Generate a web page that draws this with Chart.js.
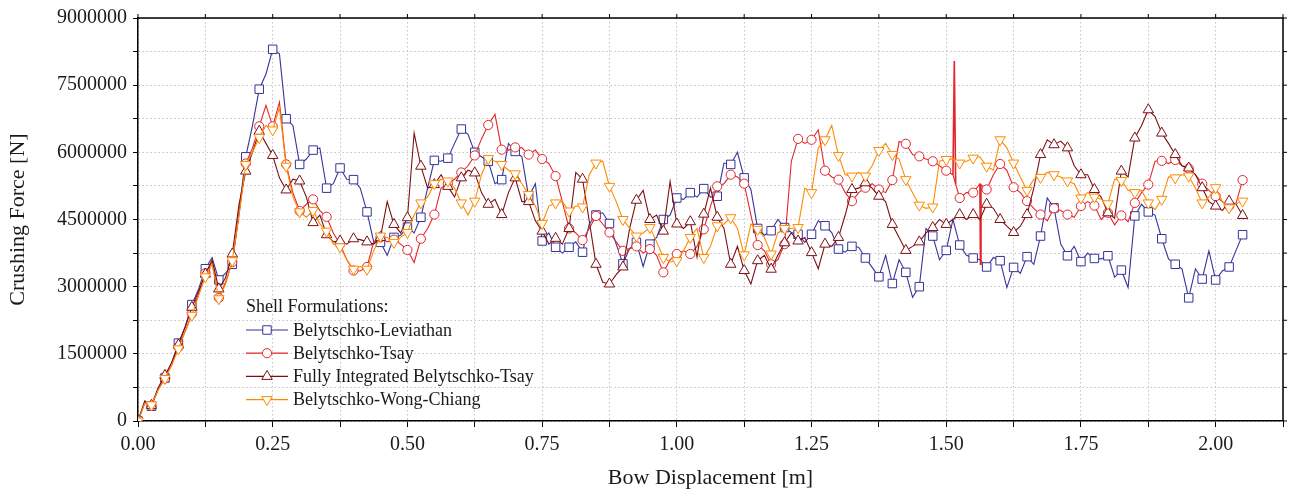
<!DOCTYPE html>
<html>
<head>
<meta charset="utf-8">
<script src="https://cdn.jsdelivr.net/npm/chart.js@4.4.1/dist/chart.umd.min.js"></script>
<style>
html,body{margin:0;padding:0;background:#fff}
#wrap{position:relative;width:1290px;height:491px}
</style>
</head>
<body>
<div id="wrap"><canvas id="c"></canvas></div>
<script>
// Bow displacement [m]
const displacement = [
0,0.0125,0.025,0.0375,0.05,0.0625,0.075,0.0875,0.1,0.1125,
0.125,0.1375,0.15,0.1625,0.175,0.1875,0.2,0.2125,0.225,0.2375,
0.25,0.2625,0.275,0.2875,0.3,0.3125,0.325,0.3375,0.35,0.3625,
0.375,0.3875,0.4,0.4125,0.425,0.4375,0.45,0.4625,0.475,0.4875,
0.5,0.5125,0.525,0.5375,0.55,0.5625,0.575,0.5875,0.6,0.6125,
0.625,0.6375,0.65,0.6625,0.675,0.6875,0.7,0.7125,0.725,0.7375,
0.75,0.7625,0.775,0.7875,0.8,0.8125,0.825,0.8375,0.85,0.8625,
0.875,0.8875,0.9,0.9125,0.925,0.9375,0.95,0.9625,0.975,0.9875,
1,1.0125,1.025,1.0375,1.05,1.0625,1.075,1.0875,1.1,1.1125,
1.125,1.1375,1.15,1.1625,1.175,1.1875,1.2,1.2125,1.225,1.2375,
1.25,1.2625,1.275,1.2875,1.3,1.3125,1.325,1.3375,1.35,1.3625,
1.375,1.3875,1.4,1.4125,1.425,1.4375,1.45,1.4625,1.475,1.4875,
1.5,1.5125,1.525,1.5375,1.55,1.5625,1.575,1.5875,1.6,1.6125,
1.625,1.6375,1.65,1.6625,1.675,1.6875,1.7,1.7125,1.725,1.7375,
1.75,1.7625,1.775,1.7875,1.8,1.8125,1.825,1.8375,1.85,1.8625,
1.875,1.8875,1.9,1.9125,1.925,1.9375,1.95,1.9625,1.975,1.9875,
2,2.0125,2.025,2.0375,2.05];

// Crushing force, read in MN
const leviathan = [
0,0.42,0.33,0.72,0.96,1.3,1.74,2.1,2.6,2.95,
3.4,3.65,3.15,3.3,3.5,4.7,5.9,6.6,7.41,7.75,
8.3,8.2,6.75,6.6,5.73,5.85,6.05,6.1,5.2,5.3,
5.65,5.4,5.39,5.2,4.67,4.0,3.99,3.7,4.1,4.15,
4.33,4.2,4.55,5.2,5.82,5.8,5.87,6.2,6.52,6.4,
6.0,5.9,5.8,5.3,5.39,6.2,6.02,5.9,5.0,5.3,
4.02,4.2,3.88,3.75,3.88,4.0,3.77,4.4,4.6,4.65,
4.41,3.95,3.51,3.85,3.99,3.45,3.95,4.1,4.5,4.6,
4.98,4.95,5.1,5.0,5.19,5.0,5.02,5.76,5.73,6.0,
5.43,5.17,4.3,4.15,4.25,4.5,4.32,4.21,4.17,3.99,
4.17,4.47,4.36,4.21,3.84,3.77,3.9,3.88,3.64,3.43,
3.22,3.7,3.07,3.6,3.32,2.76,3.0,4.3,4.13,3.6,
3.81,4.5,3.93,3.7,3.64,3.6,3.44,3.65,3.58,2.98,
3.43,3.3,3.67,3.5,4.13,4.98,4.76,3.95,3.69,3.9,
3.56,3.75,3.63,3.62,3.69,3.21,3.37,2.98,4.58,4.84,
4.67,4.6,4.07,3.62,3.5,3.4,2.75,3.4,3.17,3.8,
3.15,3.35,3.44,3.8,4.16];

const tsay = [
0,0.4,0.34,0.7,0.95,1.25,1.65,2.0,2.4,2.85,
3.3,3.55,2.75,3.1,3.55,4.6,5.75,6.1,6.58,7.05,
6.58,7.12,5.73,5.1,4.69,4.84,4.95,4.7,4.56,4.2,
3.95,3.6,3.36,3.35,3.44,4.0,4.1,4.0,4.05,3.95,
3.82,3.54,4.07,4.3,4.61,5.2,5.3,5.4,5.55,5.7,
5.93,6.3,6.61,6.85,6.06,6.05,6.11,6.1,5.95,6.05,
5.85,5.75,5.47,4.9,4.3,4.2,4.04,4.3,4.58,4.4,
4.21,4.0,3.8,3.85,3.9,3.75,3.84,3.7,3.32,3.6,
3.73,3.8,3.73,3.9,4.28,4.8,5.24,5.3,5.5,5.45,
5.3,4.6,3.93,3.8,3.5,3.6,3.95,5.8,6.3,6.2,
6.28,6.5,5.59,5.45,5.39,5.1,4.91,5.1,5.21,5.3,
5.17,5.1,5.38,6.24,6.19,5.95,5.91,5.85,5.8,5.7,
5.59,5.5,4.98,5.1,5.1,5.3,5.17,5.5,5.74,5.6,
5.22,5.1,4.91,4.75,4.61,4.47,4.75,4.7,4.61,4.55,
4.8,4.9,4.81,4.5,4.65,4.38,4.59,4.45,4.87,5.1,
5.28,5.8,5.81,5.75,5.83,5.7,5.64,5.5,5.3,5.15,
5.02,4.9,4.8,4.85,5.38];

// narrow excursions of the Belytschko-Tsay curve (MN)
const tsaySpikeX = [1.5125,1.515,1.5175,1.54,1.5625,1.5635,1.5645];
const tsaySpikeY = [5.5,8.04,5.29,null,5.3,3.5,5.28];

const fullyIntegrated = [
0,0.45,0.35,0.75,1.02,1.3,1.7,2.1,2.54,2.9,
3.28,3.6,2.95,3.2,3.73,4.84,5.58,6.0,6.47,6.2,
5.93,5.43,5.16,5.4,5.36,5.0,4.43,4.6,4.16,4.0,
4.02,3.95,4.07,4.05,4.0,3.95,4.1,4.9,4.39,4.2,
4.54,6.43,5.69,5.2,5.28,5.5,5.24,5.0,5.43,5.6,
5.54,5.1,4.84,4.95,4.61,5.1,5.43,4.9,4.9,4.47,
4.24,3.95,4.08,3.95,4.3,5.55,5.4,4.47,3.5,3.1,
3.06,3.27,3.44,4.3,4.93,5.15,4.5,4.6,4.24,5.35,
4.4,4.3,4.45,3.66,4.62,5.2,4.55,4.3,3.5,3.9,
3.36,3.06,3.58,3.7,3.39,3.7,3.98,4.2,4.02,4.1,
3.76,3.4,3.95,3.9,4.1,4.6,5.17,5.2,5.32,5.2,
5.02,4.9,4.39,4.1,3.81,3.9,4.0,4.2,4.32,4.5,
4.39,4.5,4.61,4.5,4.61,4.5,4.84,4.75,4.5,4.35,
4.21,4.35,4.61,5.2,5.95,6.28,6.17,6.25,6.1,5.7,
5.5,5.5,5.17,5.0,4.65,4.53,5.58,5.45,6.32,6.6,
6.95,6.8,6.43,6.2,5.95,5.7,5.65,5.5,5.21,4.9,
4.8,4.7,4.91,4.85,4.59];

const wongChiang = [
0,0.4,0.36,0.7,0.95,1.25,1.61,2.0,2.36,2.8,
3.22,3.5,2.73,3.05,3.58,4.6,5.73,6.0,6.33,6.6,
6.5,7.0,5.69,5.0,4.67,4.55,4.7,4.4,4.24,3.95,
3.89,3.6,3.39,3.45,3.39,3.8,4.13,4.1,3.99,4.1,
4.21,4.6,4.87,5.0,5.3,5.4,5.36,5.2,4.87,4.6,
4.91,5.5,5.86,5.8,5.73,5.6,5.52,5.3,5.06,4.8,
4.41,4.8,4.87,4.9,4.69,4.8,4.78,5.5,5.76,5.8,
5.24,4.9,4.5,4.3,4.13,4.2,4.32,4.0,3.65,3.55,
3.58,3.8,4.1,4.3,3.65,3.9,4.36,4.4,4.54,4.3,
3.71,4.4,4.28,4.1,3.73,4.2,4.3,4.3,4.32,5.2,
5.1,6.1,6.28,6.6,5.93,5.5,5.47,5.55,5.47,5.7,
6.04,6.2,5.95,5.85,5.39,5.1,4.82,4.75,4.78,5.8,
5.84,5.85,5.76,5.8,5.87,5.9,5.69,5.6,6.28,6.1,
5.76,5.45,5.15,5.4,5.44,5.55,5.5,5.45,5.36,5.3,
4.98,5.1,5.0,4.95,4.85,5.4,5.37,5.15,5.1,5.15,
4.87,4.72,4.95,5.45,5.43,5.5,5.47,5.2,4.87,5.0,
5.21,4.9,4.76,4.85,4.91];

const seriesNames = ['Belytschko-Leviathan','Belytschko-Tsay','Fully Integrated Belytschko-Tsay','Belytschko-Wong-Chiang'];
const legendTitle = 'Shell Formulations:';
const xTickLabels = [0,0.25,0.5,0.75,1.0,1.25,1.5,1.75,2.0];
const yTickLabels = [0,1500000,3000000,4500000,6000000,7500000,9000000];

const MN = 1e6;
const FONT = "'Liberation Serif', 'Times New Roman', serif";
const colors = ['#34349a', '#e3262b', '#7d0f14', '#ff8a00'];
const styles = [
  {pointStyle:'rect', rotation:0, radius:6},
  {pointStyle:'circle', rotation:0, radius:4.6},
  {pointStyle:'triangle', rotation:0, radius:6},
  {pointStyle:'triangle', rotation:180, radius:6}
];

function series(i, values, order) {
  const st = styles[i];
  return {
    label: seriesNames[i],
    data: displacement.map((x, k) => ({x: x, y: values[k] * MN})),
    borderColor: colors[i],
    backgroundColor: '#fff',
    borderWidth: 1.1,
    pointStyle: st.pointStyle,
    rotation: st.rotation,
    pointRotation: st.rotation,
    pointRadius: c => (c.dataIndex % 2 === 0 ? st.radius : 0),
    pointHoverRadius: 0,
    pointBorderWidth: 1,
    pointBorderColor: colors[i],
    pointBackgroundColor: '#fff',
    tension: 0,
    order: order
  };
}

const datasets = [
  series(0, leviathan, 5),
  series(1, tsay, 4),
  {
    label: 'spike',
    data: tsaySpikeX.map((x, k) => ({x: x, y: tsaySpikeY[k] === null ? null : tsaySpikeY[k] * MN})),
    borderColor: colors[1], borderWidth: 1.6, pointRadius: 0, tension: 0, spanGaps: false, order: 3
  },
  series(2, fullyIntegrated, 2),
  series(3, wongChiang, 1)
];

function drawMarker(ctx, st, x, y, color) {
  const r = st.radius;
  ctx.save();
  ctx.strokeStyle = color; ctx.fillStyle = '#fff'; ctx.lineWidth = 1;
  ctx.beginPath();
  if (st.pointStyle === 'rect') {
    const s = r * Math.SQRT1_2;
    ctx.rect(x - s, y - s, 2 * s, 2 * s);
  } else if (st.pointStyle === 'circle') {
    ctx.arc(x, y, r, 0, Math.PI * 2);
  } else {
    let rad = st.rotation * Math.PI / 180;
    ctx.moveTo(x + Math.sin(rad) * r, y - Math.cos(rad) * r);
    rad += 2 * Math.PI / 3;
    ctx.lineTo(x + Math.sin(rad) * r, y - Math.cos(rad) * r);
    rad += 2 * Math.PI / 3;
    ctx.lineTo(x + Math.sin(rad) * r, y - Math.cos(rad) * r);
    ctx.closePath();
  }
  ctx.fill(); ctx.stroke();
  ctx.restore();
}

const framePlugin = {
  id: 'frameAndLegend',
  afterDatasetsDraw(chart) {
    const ctx = chart.ctx, a = chart.chartArea, xs = chart.scales.x, ys = chart.scales.y;
    ctx.save();
    ctx.strokeStyle = '#000';
    ctx.lineWidth = 1.5;
    ctx.beginPath();
    ctx.moveTo(a.left, a.top); ctx.lineTo(a.right, a.top); ctx.lineTo(a.right, a.bottom);
    ctx.stroke();
    ctx.lineWidth = 1;
    ctx.beginPath();
    xs.ticks.forEach(t => { const p = xs.getPixelForValue(t.value); ctx.moveTo(p, a.top); ctx.lineTo(p, a.top - 4); });
    ys.ticks.forEach(t => { const p = ys.getPixelForValue(t.value); ctx.moveTo(a.right, p); ctx.lineTo(a.right + 4, p); });
    ctx.stroke();

    // legend
    const lx = a.left + 108, ty = a.top + 289;
    ctx.font = "18px " + FONT;
    ctx.fillStyle = '#1a1a1a';
    ctx.textBaseline = 'middle';
    ctx.textAlign = 'left';
    ctx.fillText(legendTitle, lx, ty);
    for (let i = 0; i < 4; i++) {
      const yy = ty + 23 + i * 23.2;
      ctx.strokeStyle = colors[i];
      ctx.lineWidth = 1.2;
      ctx.beginPath(); ctx.moveTo(lx, yy); ctx.lineTo(lx + 42, yy); ctx.stroke();
      drawMarker(ctx, styles[i], lx + 21, yy, colors[i]);
      ctx.fillStyle = '#1a1a1a';
      ctx.fillText(seriesNames[i], lx + 47, yy + 1);
    }
    ctx.restore();
  }
};

new Chart(document.getElementById('c'), {
  type: 'line',
  data: {datasets: datasets},
  options: {
    responsive: true,
    maintainAspectRatio: false,
    animation: false,
    layout: {padding: {top: 16, right: 4, left: 0, bottom: 0}},
    plugins: {legend: {display: false}, tooltip: {enabled: false}},
    scales: {
      x: {
        type: 'linear', min: 0, max: 2.125,
        afterFit: s => { s.height = 70; },
        ticks: {
          stepSize: 0.125, autoSkip: false, maxRotation: 0, padding: 6,
          color: '#1a1a1a', font: {family: FONT, size: 20},
          callback: v => (xTickLabels.some(t => Math.abs(t - v) < 1e-6) ? Number(v).toFixed(2) : '')
        },
        grid: {color: '#c4c4c4', lineWidth: 1, tickColor: '#000', tickLength: 6, tickWidth: 1},
        border: {display: true, color: '#000', width: 1.5, dash: [1.5, 2.5]},
        title: {display: true, text: 'Bow Displacement [m]', color: '#1a1a1a', font: {family: FONT, size: 22}, padding: {top: 0, bottom: 0}}
      },
      y: {
        type: 'linear', min: 0, max: 9000000,
        afterFit: s => { s.width = 138; },
        ticks: {
          stepSize: 750000, autoSkip: false, padding: 6,
          color: '#1a1a1a', font: {family: FONT, size: 20},
          callback: v => (yTickLabels.includes(v) ? String(v) : '')
        },
        grid: {color: '#c4c4c4', lineWidth: 1, tickColor: '#000', tickLength: 5, tickWidth: 1},
        border: {display: true, color: '#000', width: 1.5, dash: [1.5, 2.5]},
        title: {display: true, text: 'Crushing Force [N]', color: '#1a1a1a', font: {family: FONT, size: 22}, padding: {top: 5, bottom: 0}}
      }
    }
  },
  plugins: [framePlugin]
});
</script>
</body>
</html>
